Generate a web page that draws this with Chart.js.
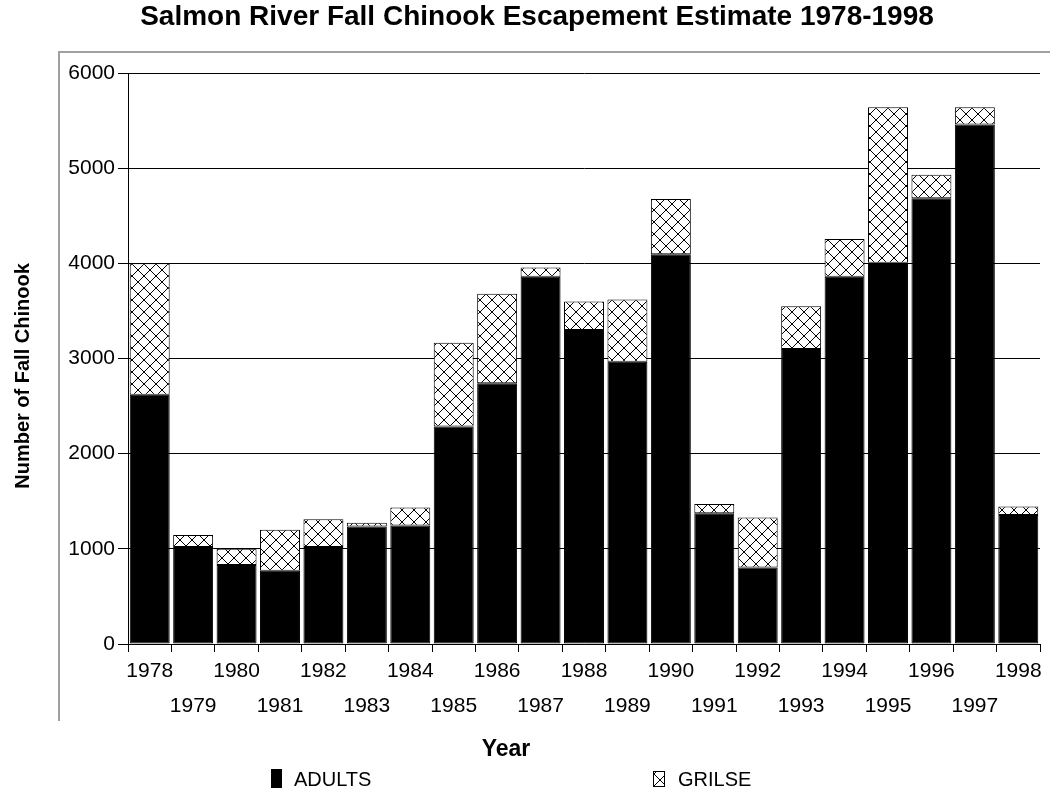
<!DOCTYPE html>
<html lang="en">
<head>
    <meta charset="UTF-8">
    <title>Salmon River Fall Chinook Escapement Estimate 1978-1998</title>
    <script src="https://cdn.jsdelivr.net/npm/chart.js"></script>
    <style>
        body { margin: 0; background: #fff; }
        .chart-container { position: relative; width: 1050px; height: 794px; }
    </style>
</head>
<body>
    <div class="chart-container">
        <canvas id="escapementChart"></canvas>
    </div>

    <script>
        const years = ["1978", "1979", "1980", "1981", "1982", "1983", "1984", "1985", "1986", "1987", "1988",
                       "1989", "1990", "1991", "1992", "1993", "1994", "1995", "1996", "1997", "1998"];
        const adults = [2620, 1020, 830, 770, 1020, 1235, 1245, 2285, 2740, 3860, 3300,
                        2965, 4095, 1375, 805, 3100, 3860, 4005, 4685, 5460, 1355];
        const grilse = [1380, 125, 170, 430, 290, 40, 190, 880, 940, 95, 300,
                        655, 580, 95, 525, 450, 395, 1635, 245, 180, 90];
        const yTicks = [0, 1000, 2000, 3000, 4000, 5000, 6000];

        const FONT = "'Liberation Sans', Arial, sans-serif";

        // crosshatch fill used for the grilse part of each bar
        function makeHatch() {
            let c = document.createElement("canvas");
            c.width = 12; c.height = 12;
            let g = c.getContext("2d");
            g.fillStyle = "#fff";
            g.fillRect(0, 0, 12, 12);
            g.fillStyle = "#000";
            for (let i = 0; i < 12; i++) {
                g.fillRect(i, i, 1, 1);
                g.fillRect(11 - i, i, 1, 1);
            }
            g.fillRect(5, 5, 2, 2);
            return g.createPattern(c, "repeat");
        }
        const hatch = makeHatch();

        // frame, y title, x title and legend
        const extras = {
            id: "extras",
            beforeDraw(chart) {
                let ctx = chart.ctx;
                ctx.save();
                ctx.fillStyle = "#fff";
                ctx.fillRect(0, 0, chart.width, chart.height);
                ctx.strokeStyle = "#a0a0a0";
                ctx.lineWidth = 2;
                ctx.beginPath();
                ctx.moveTo(59, 721);
                ctx.lineTo(59, 52);
                ctx.lineTo(1050, 52);
                ctx.stroke();
                ctx.restore();
            },
            afterDraw(chart) {
                let ctx = chart.ctx;
                ctx.save();
                ctx.fillStyle = "#000";
                ctx.textBaseline = "middle";
                ctx.textAlign = "center";

                ctx.font = "bold 20px " + FONT;
                ctx.save();
                ctx.translate(23, 376);
                ctx.rotate(-Math.PI / 2);
                ctx.fillText("Number of Fall Chinook", 0, 0);
                ctx.restore();

                ctx.font = "bold 23px " + FONT;
                ctx.fillText("Year", 506, 750);

                // legend
                ctx.textAlign = "left";
                ctx.font = "20px " + FONT;
                ctx.fillRect(271, 769, 11, 19);
                ctx.fillText("ADULTS", 294, 780);

                ctx.fillStyle = hatch;
                ctx.fillRect(653, 771, 12, 16);
                ctx.strokeStyle = "#000";
                ctx.lineWidth = 1;
                ctx.strokeRect(653.5, 771.5, 11, 15);
                ctx.fillStyle = "#000";
                ctx.fillText("GRILSE", 678, 780);
                ctx.restore();
            }
        };

        new Chart(document.getElementById("escapementChart"), {
            type: "bar",
            data: {
                labels: years,
                datasets: [{
                    label: "ADULTS",
                    data: adults,
                    backgroundColor: "#000",
                    borderColor: "#000",
                    borderWidth: 1,
                    borderSkipped: false,
                    categoryPercentage: 1,
                    barPercentage: 0.92
                }, {
                    label: "GRILSE",
                    data: grilse,
                    backgroundColor: hatch,
                    borderColor: "#000",
                    borderWidth: 1,
                    borderSkipped: false,
                    categoryPercentage: 1,
                    barPercentage: 0.92
                }]
            },
            options: {
                responsive: true,
                maintainAspectRatio: false,
                animation: false,
                layout: { padding: { left: 34, right: 10, top: 0, bottom: 0 } },
                plugins: {
                    legend: { display: false },
                    tooltip: { enabled: false },
                    title: {
                        display: true,
                        text: "Salmon River Fall Chinook Escapement Estimate 1978-1998",
                        color: "#000",
                        font: { family: FONT, size: 28, weight: "bold", lineHeight: 1.2 },
                        padding: { top: 0, bottom: 39.4 }
                    }
                },
                scales: {
                    x: {
                        stacked: true,
                        afterFit: scale => { scale.height = 150; },
                        grid: { drawOnChartArea: false, drawTicks: true, tickLength: 8, color: "#000", offset: true },
                        border: { display: true, color: "#000", width: 1 },
                        ticks: {
                            autoSkip: false,
                            maxRotation: 0,
                            color: "#000",
                            padding: 2,
                            font: { family: FONT, size: 21, lineHeight: 35 / 21 },
                            callback: (v, i) => i % 2 === 0 ? [years[i], ""] : ["", years[i]]
                        }
                    },
                    y: {
                        stacked: true,
                        min: yTicks[0],
                        max: yTicks[yTicks.length - 1],
                        afterFit: scale => { scale.width = 94; },
                        afterBuildTicks: scale => { scale.ticks = yTicks.map(v => ({ value: v })); },
                        grid: { color: "#000", lineWidth: 1, tickLength: 10 },
                        border: { display: true, color: "#000", width: 1 },
                        ticks: {
                            color: "#000",
                            padding: 3,
                            font: { family: FONT, size: 21 },
                            callback: v => String(v)
                        }
                    }
                }
            },
            plugins: [extras]
        });
    </script>
</body>
</html>
